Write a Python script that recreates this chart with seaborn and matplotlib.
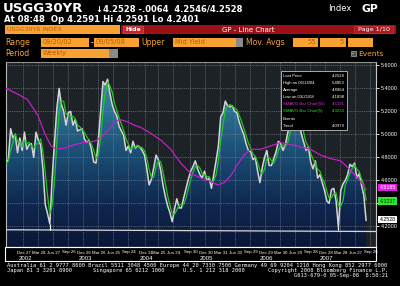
import numpy as np
import pandas as pd
import matplotlib
matplotlib.use("Agg")
import matplotlib.pyplot as plt
import matplotlib.transforms as mtransforms
import matplotlib.dates as mdates
from matplotlib.patches import Rectangle
from matplotlib.colors import LinearSegmentedColormap
from matplotlib.ticker import FixedFormatter
import seaborn as sns

sns.set_theme(style="dark")
plt.rcParams['font.family'] = ['DejaVu Sans']

# ---------------- data ----------------
end_date = "2008-09-05"
yield_values = [
    4.75, 4.78, 5.05, 4.97, 5.00, 4.84, 4.97, 4.86, 5.02, 4.87,
    4.91, 4.92, 4.80, 5.02, 4.95, 4.91, 4.70, 4.39, 4.31, 4.22,
    4.62, 4.93, 5.22, 5.40, 5.26, 5.20, 5.08, 5.19, 5.20, 5.08,
    5.13, 5.03, 5.04, 5.05, 4.96, 4.93, 4.95, 4.87, 4.76, 4.75,
    4.95, 5.20, 5.46, 5.43, 5.48, 5.36, 5.26, 5.20, 5.16, 5.07,
    5.03, 4.99, 4.86, 4.90, 4.84, 4.94, 4.88, 4.90, 4.89, 4.86,
    4.82, 4.70, 4.56, 4.61, 4.71, 4.82, 4.78, 4.69, 4.56, 4.46,
    4.38, 4.32, 4.24, 4.35, 4.44, 4.36, 4.36, 4.45, 4.53, 4.61,
    4.68, 4.72, 4.77, 4.70, 4.65, 4.62, 4.68, 4.60, 4.62, 4.53,
    4.65, 4.77, 4.90, 5.15, 5.19, 5.29, 5.25, 5.24, 5.25, 5.20,
    5.19, 5.11, 5.05, 5.00, 4.92, 4.86, 4.85, 4.78, 4.80, 4.68,
    4.58, 4.71, 4.80, 4.86, 4.73, 4.73, 4.79, 4.85, 4.94, 4.92,
    4.86, 4.91, 5.01, 5.10, 5.18, 5.30, 5.33, 5.10, 5.00, 4.93,
    4.86, 4.89, 4.76, 4.70, 4.77, 4.62, 4.65, 4.58, 4.51, 4.42,
    4.40, 4.52, 4.53, 4.42, 4.19, 4.51, 4.57, 4.60, 4.65, 4.74,
    4.72, 4.75, 4.62, 4.66, 4.56, 4.47, 4.25,
]
ma55_dates = [
    "2002-09-13", "2002-11-24", "2003-01-23", "2003-03-27", "2003-05-05",
    "2003-06-13", "2003-07-13", "2003-09-02", "2003-11-01", "2003-12-31",
    "2004-03-01", "2004-04-10", "2004-05-21", "2004-06-30", "2004-07-30",
    "2004-09-19", "2004-10-29", "2004-12-09", "2005-02-07", "2005-04-09",
    "2005-06-08", "2005-08-08", "2005-10-08", "2005-12-08", "2006-02-06",
    "2006-03-19", "2006-04-28", "2006-06-07", "2006-07-18", "2006-08-27",
    "2006-10-07", "2006-12-06", "2007-02-05", "2007-04-06", "2007-06-06",
    "2007-08-05", "2007-10-04", "2007-12-04", "2008-02-02", "2008-04-03",
    "2008-06-02", "2008-08-02", "2008-09-05",
]
ma55_values = [
    5.40, 5.35, 5.30, 5.16, 5.01, 4.90, 4.87, 4.88, 4.91, 4.93,
    4.94, 4.97, 5.03, 5.10, 5.13, 5.11, 5.08, 5.06, 5.01, 4.95,
    4.87, 4.75, 4.66, 4.62, 4.59, 4.56, 4.58, 4.64, 4.74, 4.82,
    4.87, 4.87, 4.90, 4.93, 4.91, 4.89, 4.87, 4.82, 4.79, 4.77,
    4.69, 4.59, 4.52,
]
sma_points = 3                       # 5-week average on the 2-week samples
low_mark_index = [19, 144]
trend_dates = ["2002-09-13", "2008-11-04"]
trend_values = [4.17, 4.155]
ytick_values = [4.2, 4.4, 4.6, 4.8, 5.0, 5.2, 5.4, 5.6]
ytick_labels = ["4.2000", "", "4.6000", "4.8000", "5.0000", "5.2000", "5.4000", "5.6000"]
year_labels = ["2002", "2003", "2004", "2005", "2006", "2007"]
tag_texts = ["4.5185", "4.3237", "4.2528"]
box_labels = ["Last Price", "High on 06/14/04", "Average", "Low on 03/21/08",
              "SMAVG Bar Chart(55)", "SMAVG Bar Chart(5)", "Events", "Trend"]
box_values = ["4.2528", "5.4853", "4.8964", "4.1898", "4.5191", "4.3233", "", "4.0979"]

dates = pd.date_range(end=end_date, periods=len(yield_values), freq="14D")
df = pd.DataFrame({"date": dates, "yield": yield_values})
df["sma5"] = df["yield"].rolling(sma_points, min_periods=1).mean()
ma_df = pd.DataFrame({"date": pd.to_datetime(ma55_dates), "ma55": ma55_values})

# quarter-end ticks (last Friday of Mar/Jun/Sep/Dec)
qends = pd.date_range("2002-12-01", "2008-09-30", freq="QE-DEC")
tick_dates = [q - pd.Timedelta(days=(q.weekday() - 4) % 7) for q in qends]
tick_labels = [d.strftime("%b %d") for d in tick_dates]

# ---------------- figure ----------------
W, H = 400, 286
fig = plt.figure(figsize=(W / 100, H / 100), dpi=100)
fig.patch.set_facecolor("black")

def fx(x):
    return x / W

def fy(y):
    return 1 - y / H

def T(x, y, s, **kw):
    kw.setdefault("va", "center")
    kw.setdefault("color", "white")
    return fig.text(fx(x), fy(y), s, **kw)

def R(x0, y0, x1, y1, fc, ec="none", lw=0.6):
    fig.add_artist(Rectangle((fx(x0), fy(y1)), (x1 - x0) / W, (y1 - y0) / H,
                             transform=fig.transFigure, facecolor=fc,
                             edgecolor=ec, lw=lw))

ORANGE = "#f7a232"
FIELD_TXT = "#b85c00"

# header line 1
T(3, 8.5, "USGG30YR", fontsize=9.5, fontweight="bold")
T(96, 8.5, "\u21934.2528 -.0064  4.2546/4.2528", fontsize=6.0, fontweight="bold")
T(328, 8.5, "Index", fontsize=6.0)
T(361, 8.5, "GP", fontsize=7.8, fontweight="bold")
# header line 2
T(4, 19.5, "At 08:48  Op 4.2591 Hi 4.2591 Lo 4.2401", fontsize=6.1, fontweight="bold")

# row 3
R(5, 25, 120, 34, ORANGE)
T(7, 29.8, "USGG30YR INDEX", fontsize=4.4, color=FIELD_TXT)
R(121, 25, 396, 34, "#9c1018")
R(123, 26, 143, 33, "#c8242a", ec="#e06060", lw=0.4)
T(133, 29.6, "Hide", fontsize=4.4, ha="center", fontweight="bold")
T(248, 29.8, "GP - Line Chart", fontsize=5.0, ha="center")
R(354, 26, 393, 33, "#b01820", ec="#d04040", lw=0.4)
T(373.5, 29.8, "Page 1/10", fontsize=4.6, ha="center")

# row 4
T(5, 42.5, "Range", fontsize=5.6, color=ORANGE)
R(41, 38, 89, 47, ORANGE)
T(43, 42.5, "09/20/02", fontsize=4.8, color=FIELD_TXT)
T(90.5, 42.2, "-", fontsize=5.5)
R(94, 38, 139, 47, ORANGE)
T(96, 42.5, "09/05/08", fontsize=4.8, color=FIELD_TXT)
T(141, 42.5, "Upper", fontsize=5.6, color=ORANGE)
R(173, 38, 236, 47, ORANGE)
R(236, 38, 243, 47, "#8a8a8a")
T(175, 42.5, "Mid Yield", fontsize=4.8, color=FIELD_TXT)
T(246, 42.5, "Mov. Avgs", fontsize=5.6, color=ORANGE)
R(293, 38, 318, 47, ORANGE)
T(316, 42.5, "55", fontsize=4.8, color=FIELD_TXT, ha="right")
R(320, 38, 346, 47, ORANGE)
T(344, 42.5, "5", fontsize=4.8, color=FIELD_TXT, ha="right")
R(348, 38, 373, 47, ORANGE)

# row 5
T(5, 53.5, "Period", fontsize=5.6, color=ORANGE)
R(41, 49, 109, 58, ORANGE)
R(109, 49, 118, 58, "#8a8a8a")
T(43, 53.5, "Weekly", fontsize=4.8, color=FIELD_TXT)
R(350.5, 51, 355.5, 56, "#555555", ec="#cccccc", lw=0.4)
T(353, 53.4, "-", fontsize=4, ha="center")
T(358, 53.5, "Events", fontsize=5.4, color=ORANGE)

# ---------------- main chart ----------------
ax = fig.add_axes([fx(6), fy(247), (376 - 6) / W, (247 - 62) / H])
ax.set_facecolor("#1d2227")
x_lo = pd.Timestamp("2002-09-13")
x_hi = pd.Timestamp("2008-11-04")
y_lo, y_hi = 4.02, 5.63

# gradient area under the yield curve
poly = ax.fill_between(df["date"], df["yield"], y_lo - 0.1,
                       facecolor="none", edgecolor="none")
cmap = LinearSegmentedColormap.from_list(
    "bbg", ["#0a1636", "#0f2a52", "#1b4d74", "#2e7392", "#4b97ad"])
grad = np.linspace(0, 1, 256).reshape(-1, 1)
im = ax.imshow(grad, extent=[mdates.date2num(x_lo), mdates.date2num(x_hi), y_lo, y_hi],
               origin="lower", aspect="auto", cmap=cmap, zorder=1, interpolation="bilinear")
im.set_clip_path(poly.get_paths()[0], transform=ax.transData)

# grid
for d in tick_dates:
    ax.axvline(d, color="#8a9098", lw=0.6, ls=(0, (1, 1.2)), alpha=0.75, zorder=2)
for v in ytick_values:
    ax.axhline(v, color="#8a9098", lw=0.6, ls=(0, (1, 1.2)), alpha=0.75, zorder=2)

# trend line and low markers
sns.lineplot(x=pd.to_datetime(trend_dates), y=trend_values, color="#d8d8d8",
             lw=0.9, ax=ax, zorder=3)
for i in low_mark_index:
    ax.vlines(df["date"].iloc[i], trend_values[0], df["yield"].iloc[i],
              color="white", lw=0.9, zorder=3)

# series
sns.lineplot(data=df, x="date", y="yield", color="#d4d4d4", lw=1.1, ax=ax, zorder=4)
sns.lineplot(data=df, x="date", y="sma5", color="#1ec81e", lw=0.9, ax=ax, zorder=5)
sns.lineplot(data=ma_df, x="date", y="ma55", color="#c41ec8", lw=0.9, ax=ax, zorder=6)

ax.set_xlim(x_lo, x_hi)
ax.set_ylim(y_lo, y_hi)
ax.set_xlabel("")
ax.set_ylabel("")
ax.grid(False)

# axes decorations
for s, c in [("left", "#b8b8b8"), ("top", "#909090"), ("right", "#c8c8c8"), ("bottom", "white")]:
    ax.spines[s].set_visible(True)
    ax.spines[s].set_color(c)
    ax.spines[s].set_linewidth(0.8)
ax.yaxis.tick_right()
ax.set_yticks(ytick_values)
ax.yaxis.set_major_formatter(FixedFormatter(ytick_labels))
ax.tick_params(axis="y", colors="white", labelsize=3.9, length=2, width=0.6, pad=1.2)
for lab in ax.get_yticklabels():
    lab.set_fontfamily("Liberation Sans")
ax.set_xticks(tick_dates)
ax.set_xticklabels([])
ax.tick_params(axis="x", colors="white", length=2, width=0.6, direction="out")

# x tick labels (month/day) and years
blend = mtransforms.blended_transform_factory(ax.transData, ax.transAxes)
lab_tr = mtransforms.offset_copy(blend, fig=fig, x=-6, y=-5.5, units="dots")
yr_tr = mtransforms.offset_copy(blend, fig=fig, x=-5, y=-11.5, units="dots")
for d, s in zip(tick_dates, tick_labels):
    ax.text(d, 0, s, transform=lab_tr, fontsize=3.2, color="white",
            ha="left", va="center", family="Liberation Sans", clip_on=False)
dec_ticks = [d for d in tick_dates if d.month == 12]
for d, s in zip(dec_ticks, year_labels):
    ax.text(d, 0, s, transform=yr_tr, fontsize=4.3, color="white",
            ha="left", va="center", family="Liberation Sans", clip_on=False)

# value tags on the right
tag_y = [4.535, 4.42, 4.262]
tag_style = [("#e01ee0", "white"), ("#2ee82e", "#063806"), ("white", "black")]
for yv, s, (bg, fg) in zip(tag_y, tag_texts, tag_style):
    ax.annotate(s, xy=(1.0, yv), xycoords=("axes fraction", "data"),
                xytext=(2.5, 0), textcoords="offset points", fontsize=3.8,
                color=fg, va="center", ha="left", family="Liberation Sans",
                annotation_clip=False, zorder=20,
                bbox=dict(boxstyle="square,pad=0.2", fc=bg, ec="none"))

# statistics box
R(281, 71, 347, 130, "black", ec="#c0c0c0", lw=0.6)
box_colors = ["white", "white", "white", "white", "#e030e0", "#30e030", "white", "white"]
for i, (lab, val, c) in enumerate(zip(box_labels, box_values, box_colors)):
    yy = 76 + i * 7.1
    T(283, yy, lab, fontsize=3.1, color=c, family="Liberation Sans")
    T(345, yy, val, fontsize=3.1, color=c, ha="right", family="Liberation Sans")

# frame of the date strip
R(5, 247, 376, 261, "none", ec="white", lw=0.8)

# footer
mono = "DejaVu Sans Mono"
fs_foot = 3.85
T(7, 265, "Australia 61 2 9777 8600 Brazil 5511 3048 4500 Europe 44 20 7330 7500 "
  "Germany 49 69 9204 1210 Hong Kong 852 2977 6000", fontsize=fs_foot, family=mono)
T(7, 270.5, "Japan 81 3 3201 8900", fontsize=fs_foot, family=mono)
T(93, 270.5, "Singapore 65 6212 1000", fontsize=fs_foot, family=mono)
T(183, 270.5, "U.S. 1 212 318 2000", fontsize=fs_foot, family=mono)
T(388, 270.5, "Copyright 2008 Bloomberg Finance L.P.", fontsize=fs_foot,
  family=mono, ha="right")
T(388, 276, "G613-679-0 05-Sep-08  8:50:21", fontsize=fs_foot, family=mono, ha="right")

fig.savefig("out.png", dpi=100, facecolor="black")
